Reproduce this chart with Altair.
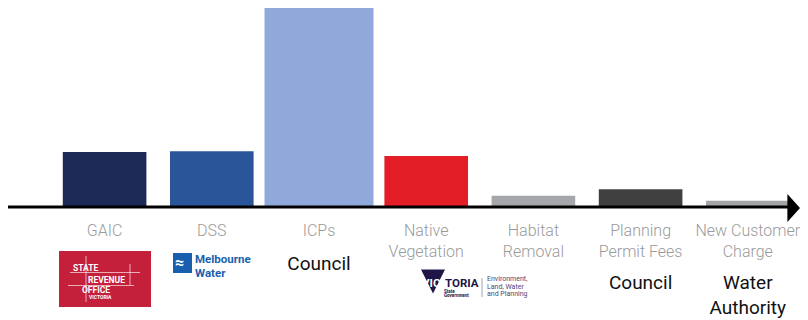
import altair as alt
import pandas as pd

# ---- data ----
categories = ["GAIC", "DSS", "ICPs", "Native Vegetation", "Habitat Removal",
              "Planning Permit Fees", "New Customer Charge"]
label_lines = ["GAIC", "DSS", "ICPs", "Native\nVegetation", "Habitat\nRemoval",
               "Planning\nPermit Fees", "New Customer\nCharge"]
values = [54, 54.7, 198.7, 50, 10.3, 16.7, 5.3]
colors = ["#1c2957", "#2a5699", "#90a9da", "#e31e27", "#a5a7aa", "#404040", "#a3a5a8"]

agency_cats = ["ICPs", "Planning Permit Fees", "New Customer Charge"]
agency_labels = ["Council", "Council", "Water\nAuthority"]

df = pd.DataFrame({"cat": categories, "label": label_lines, "value": values, "color": colors})
df_ag = pd.DataFrame({"cat": agency_cats, "agency": agency_labels})
dummy = pd.DataFrame({"k": [0]})

xs = alt.Scale(domain=categories, range=[43, 793.4], paddingInner=0.22, paddingOuter=0.11)
ys = alt.Scale(domain=[0, 198], range=[198, 0])
X = alt.X("cat:N", scale=xs, axis=None)
Y = alt.Y("value:Q", scale=ys, axis=None)
C = alt.Color("color:N", scale=None)

bars = alt.Chart(df).transform_filter(alt.datum.cat != "ICPs").mark_bar().encode(x=X, y=Y, color=C)
bar_icp = alt.Chart(df).transform_filter(alt.datum.cat == "ICPs").mark_bar(width=109).encode(
    x=X, y=Y, color=C)

labels = alt.Chart(df).mark_text(
    font="Roboto", fontSize=16, fontWeight=300, color="#9a9a9a",
    lineBreak="\n", lineHeight=21, baseline="alphabetic",
).encode(x=X, y=alt.value(228), text="label:N")

ag1 = alt.Chart(df_ag).transform_filter(alt.datum.cat == "ICPs").mark_text(
    font="Roboto", fontSize=19, color="#111111", baseline="alphabetic",
).encode(x=X, y=alt.value(262), text="agency:N")

ag2 = alt.Chart(df_ag).transform_filter(alt.datum.cat != "ICPs").mark_text(
    font="Roboto", fontSize=19, color="#111111", baseline="alphabetic",
    lineBreak="\n", lineHeight=25,
).encode(x=X, y=alt.value(281), text="agency:N")

# axis line with arrow
axis_line = alt.Chart(dummy).mark_rule(color="#000000", strokeWidth=3).encode(
    x=alt.value(0), x2=alt.value(782), y=alt.value(199))
arrow = alt.Chart(dummy).mark_point(
    shape="M-0.45,-1L0.45,0L-0.45,1Z", filled=True, color="#000000", opacity=1, size=784
).encode(x=alt.value(785.7), y=alt.value(200))


def txt(s, x, y, **kw):
    params = dict(align="left", baseline="alphabetic", font="Roboto")
    params.update(kw)
    return alt.Chart(dummy).mark_text(text=s, **params).encode(x=alt.value(x), y=alt.value(y))


def rect(x, x2, y, y2, **kw):
    return alt.Chart(dummy).mark_rect(**kw).encode(
        x=alt.value(x), x2=alt.value(x2), y=alt.value(y), y2=alt.value(y2))


def rule(x, x2, y, y2, **kw):
    return alt.Chart(dummy).mark_rule(**kw).encode(
        x=alt.value(x), x2=alt.value(x2), y=alt.value(y), y2=alt.value(y2))


# State Revenue Office logo (approximation)
sro_red = "#c41f3b"
sro = [
    rect(51, 143, 243, 299, color=sro_red),
    rule(78, 78, 248, 294, color="white", strokeWidth=0.8, opacity=0.8),
    rule(62, 132, 264.5, 264.5, color="white", strokeWidth=0.8, opacity=0.8),
    rule(122, 122, 256, 277, color="white", strokeWidth=0.8, opacity=0.8),
    rule(60, 126, 277.5, 277.5, color="white", strokeWidth=0.8, opacity=0.8),
    txt("STATE", 65, 262.5, fontSize=8.5, color="white", fontWeight="bold"),
    txt("REVENUE", 80, 275, fontSize=8.5, color="white", fontWeight="bold"),
    txt("OFFICE", 74, 284.5, fontSize=8.5, color="white", fontWeight="bold"),
    txt("VICTORIA", 81, 291, fontSize=5, color="white", fontWeight="bold"),
]

# Melbourne Water logo (approximation)
mw_blue = "#1a5fae"
mw = [
    rect(165, 184, 245, 265, color=mw_blue),
    txt("≈", 167, 260, fontSize=16, color="white", fontWeight="bold"),
    txt("Melbourne\nWater", 187, 255, fontSize=11.5, color=mw_blue, fontWeight="bold",
        lineBreak="\n", lineHeight=13.5),
]

# Victoria State Government logo (approximation)
navy = "#201547"
vic = [
    alt.Chart(dummy).mark_point(shape="M-1,-1L1,-1L0,1Z", filled=True, color=navy,
                                opacity=1, size=576).encode(x=alt.value(425), y=alt.value(273.5)),
    txt("VIC", 414, 278.5, fontSize=11.5, color="white", fontWeight="bold"),
    txt("TORIA", 437, 278.5, fontSize=11.5, color=navy, fontWeight="bold"),
    txt("State\nGovernment", 436, 284.5, fontSize=4.5, color=navy, fontWeight="bold",
        lineBreak="\n", lineHeight=4.5),
    rule(474, 474, 270, 289, color="#8a8aa8", strokeWidth=0.8),
    txt("Environment,\nLand, Water\nand Planning", 479, 273, fontSize=7, color="#4a4a7a",
        lineBreak="\n", lineHeight=7.5),
]

chart = alt.layer(
    bars, bar_icp, axis_line, arrow, labels, ag1, ag2, *sro, *mw, *vic
).properties(
    width=792, height=312, autosize=alt.AutoSizeParams(type="none"), padding=0,
    background="white",
).configure_view(stroke=None)

chart.save("out.html", embed_options={"renderer": "svg", "actions": False})
